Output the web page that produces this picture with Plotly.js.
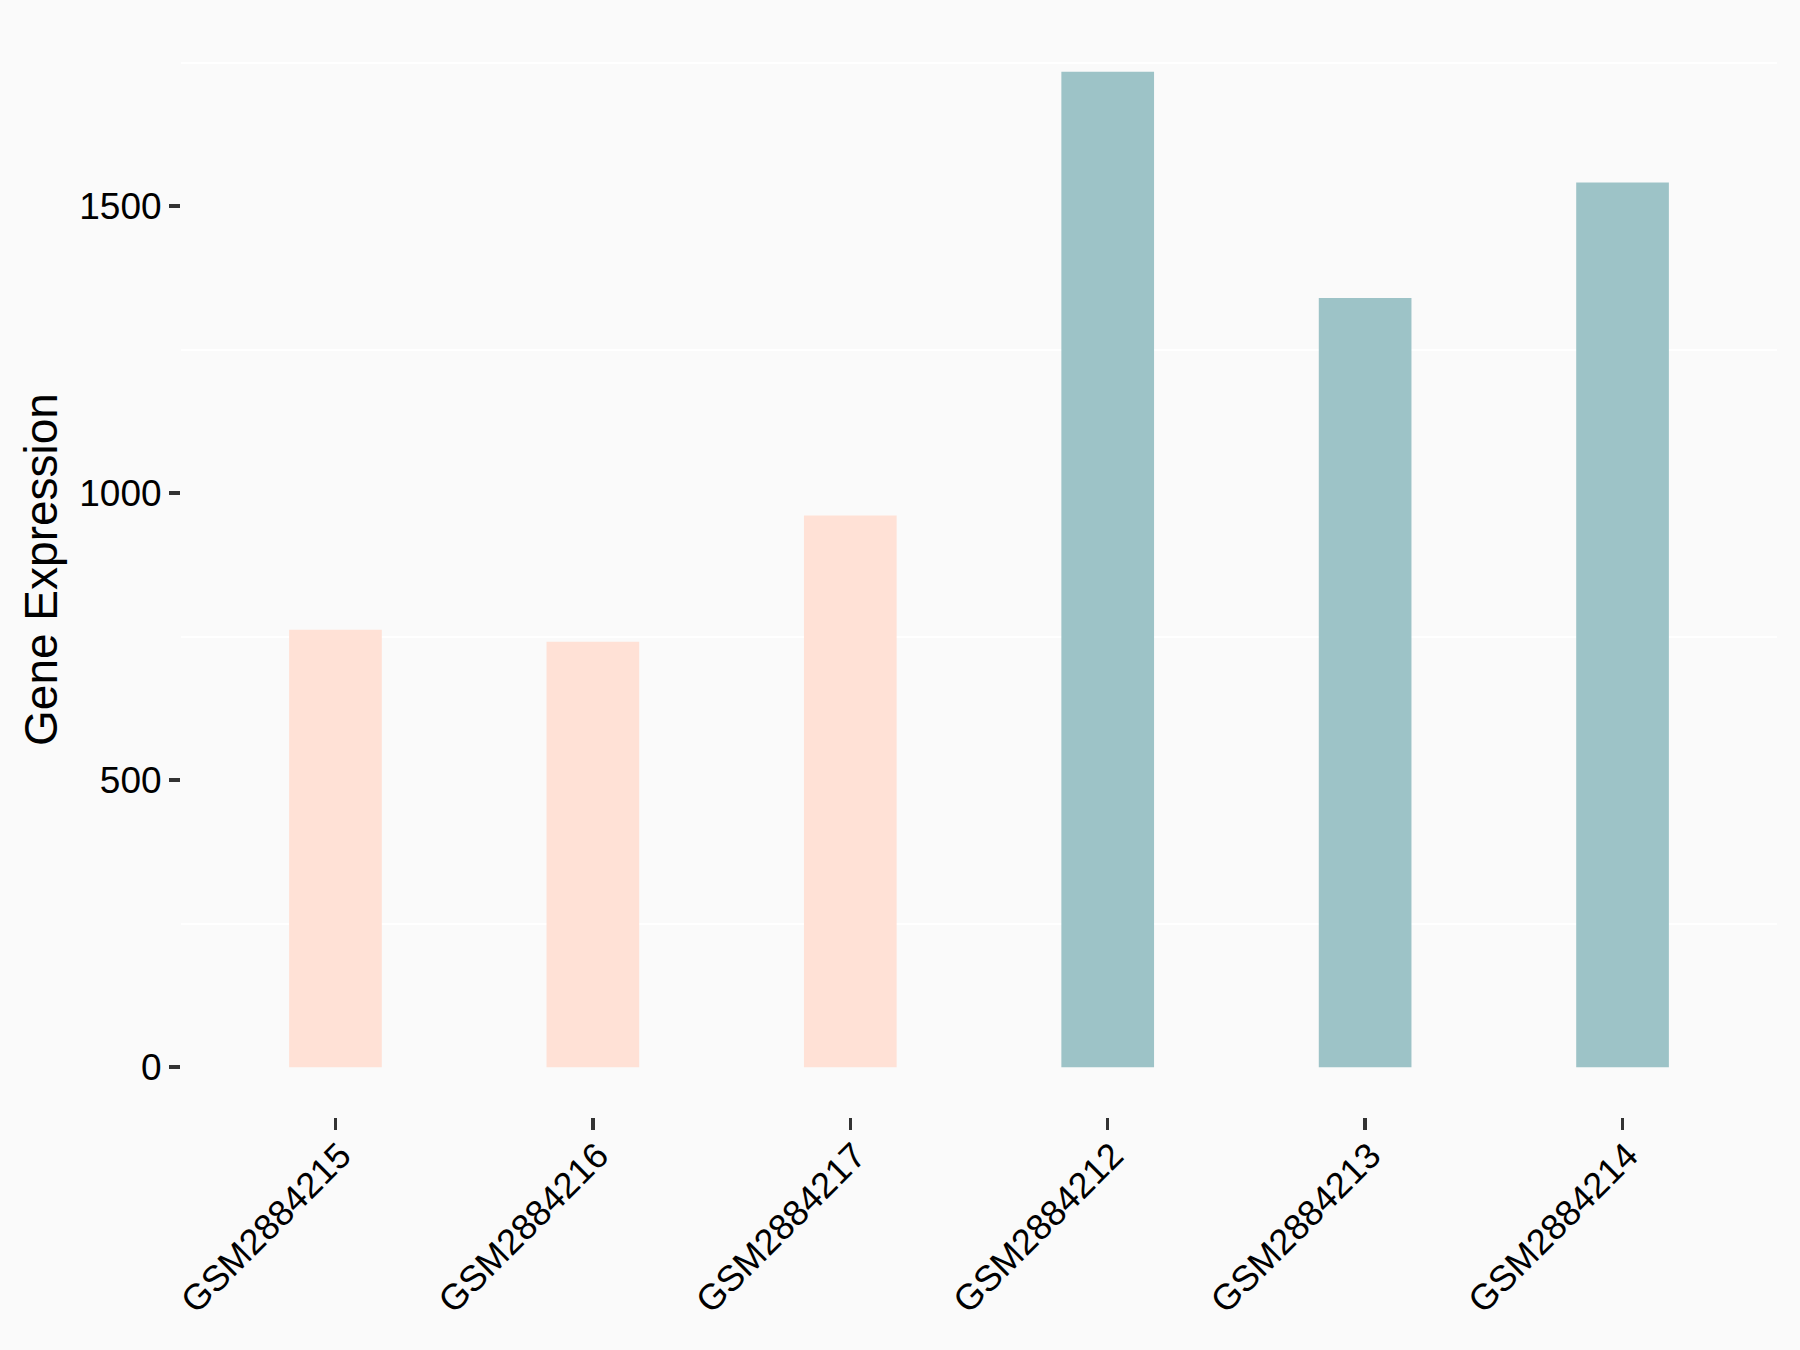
<!DOCTYPE html>
<html>
<head>
<meta charset="utf-8">
<script src="https://cdn.plot.ly/plotly-3.0.1.min.js"></script>
<style>
  html, body { margin: 0; padding: 0; background: #FAFAFA; }
  #chart { width: 1800px; height: 1350px; }
</style>
</head>
<body>
<div id="chart"></div>
<script>
const samples = ["GSM2884215", "GSM2884216", "GSM2884217", "GSM2884212", "GSM2884213", "GSM2884214"];
const expression = [762, 741, 961, 1734, 1340, 1541];
const groups = ["A", "A", "A", "B", "B", "B"];
const groupColors = { A: "#FFE1D6", B: "#9DC3C7" };
const yTickVals = [0, 500, 1000, 1500];
const yGridVals = [250, 750, 1250, 1750];

const maxVal = Math.max(...expression);
const trace = {
  type: "bar",
  x: samples,
  y: expression,
  width: 0.36,
  marker: { color: groups.map(g => groupColors[g]), line: { width: 0 } },
  hoverinfo: "x+y"
};

const layout = {
  width: 1800,
  height: 1350,
  paper_bgcolor: "#FAFAFA",
  plot_bgcolor: "#FAFAFA",
  showlegend: false,
  margin: { l: 181, r: 23, t: 22, b: 233 },
  font: { family: "Liberation Sans, Arial, sans-serif", color: "#000000", size: 37 },
  xaxis: {
    type: "category",
    categoryorder: "array",
    categoryarray: samples,
    range: [-0.6, samples.length - 0.4],
    showgrid: false,
    zeroline: false,
    showline: false,
    ticks: "outside",
    ticklen: 12,
    tickwidth: 3.5,
    tickcolor: "#333333",
    tickangle: -45,
    ticklabelstandoff: -10,
    ticklabelshift: 5,
    tickfont: { size: 36, color: "#000000" }
  },
  yaxis: {
    range: [-0.05 * maxVal, 1.05 * maxVal],
    tickmode: "array",
    tickvals: yTickVals,
    ticktext: yTickVals.map(String),
    showgrid: false,
    zeroline: false,
    showline: false,
    ticks: "outside",
    ticklen: 11,
    tickwidth: 3.5,
    tickcolor: "#333333",
    tickfont: { size: 37, color: "#000000" },
    minor: {
      tickmode: "array",
      tickvals: yGridVals,
      showgrid: true,
      gridcolor: "#FFFFFF",
      gridwidth: 2,
      ticklen: 0
    },
    title: { text: "Gene Expression", font: { size: 46, color: "#000000" }, standoff: 7 }
  }
};

Plotly.newPlot("chart", [trace], layout, { displayModeBar: false, staticPlot: true });
</script>
</body>
</html>
